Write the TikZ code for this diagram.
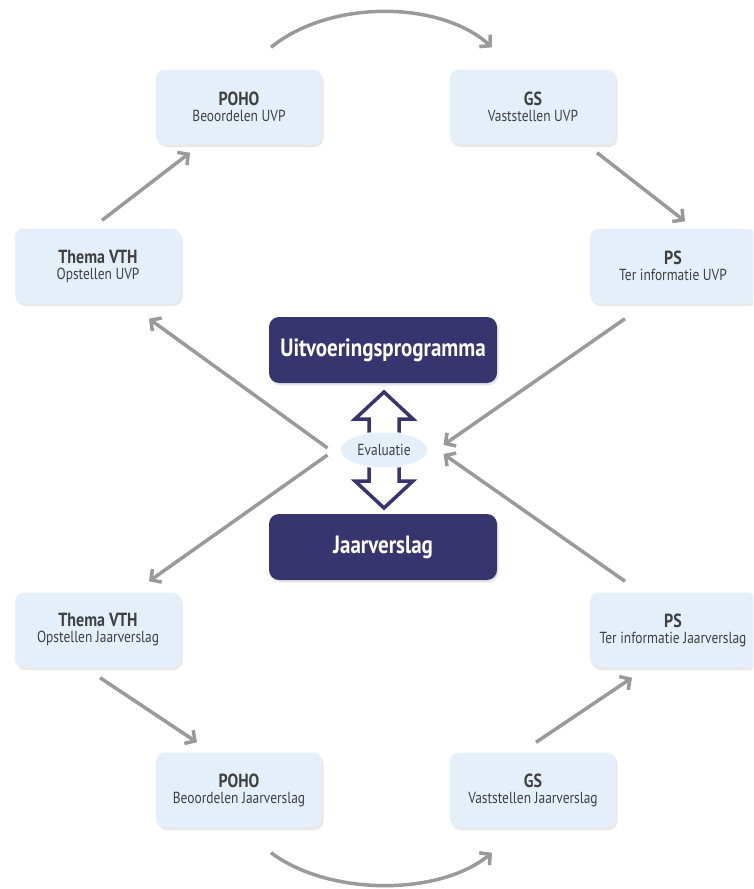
\documentclass[tikz,border=0pt]{standalone}
\usepackage{fontspec}
\setmainfont{PT Sans}[FakeStretch=0.84]
\usetikzlibrary{arrows.meta,shapes.geometric,shadows}
\definecolor{boxblue}{HTML}{E4EFFA}
\definecolor{navy}{HTML}{37356F}
\definecolor{flowgray}{HTML}{9A9A9A}
\definecolor{txtgray}{HTML}{404040}
\tikzset{
  stap/.style={rectangle,rounded corners=9pt,fill=boxblue,minimum width=166pt,minimum height=75pt,
    align=center,text=txtgray,font=\fontsize{16}{16}\selectfont,
    drop shadow={opacity=0.18,shadow xshift=1.5pt,shadow yshift=-2.5pt}},
  kern/.style={rectangle,rounded corners=10pt,fill=navy,minimum width=228pt,minimum height=66pt,
    text=white,font=\fontsize{25}{28}\selectfont\bfseries,
    drop shadow={opacity=0.18,shadow xshift=1.5pt,shadow yshift=-2.5pt}},
  flow/.style={draw=flowgray,line width=3.5pt,-{Straight Barb[length=7.5pt,width=16pt]}},
}
\newcommand{\stapkop}[2]{{\fontsize{19}{17}\selectfont\bfseries #1}\\#2}
\begin{document}
\begin{tikzpicture}[x=1pt,y=-1pt]
\clip (0,0) rectangle (753,889);
\fill[white] (0,0) rectangle (753,889);
% bovenste ring
\node[stap] (poho1) at (239,107) {\stapkop{POHO}{Beoordelen UVP}};
\node[stap] (gs1) at (533,107) {\stapkop{GS}{Vaststellen UVP}};
\node[stap] (thema1) at (98,266) {\stapkop{Thema VTH}{Opstellen UVP}};
\node[stap] (ps1) at (673,266) {\stapkop{PS}{Ter informatie UVP}};
% midden
\node[kern] (uvp) at (383,350) {Uitvoeringsprogramma};
\node[kern] (jv) at (383,547) {Jaarverslag};
\draw[navy,line width=3.5pt,fill=white,line join=miter]
  (384,392) -- (413,419) -- (399,419) -- (399,440) -- (369,440) -- (369,419) -- (355,419) -- cycle;
\draw[navy,line width=3.5pt,fill=white,line join=miter]
  (384,508) -- (413,481) -- (399,481) -- (399,460) -- (369,460) -- (369,481) -- (355,481) -- cycle;
\node[ellipse,fill=boxblue,draw=white,line width=1pt,minimum width=88pt,minimum height=36pt,inner sep=0pt,
  text=txtgray,font=\fontsize{16}{16}\selectfont] (eval) at (384,450) {Evaluatie};
% onderste ring
\node[stap] (thema2) at (98,630) {\stapkop{Thema VTH}{Opstellen Jaarverslag}};
\node[stap] (ps2) at (673,630) {\stapkop{PS}{Ter informatie Jaarverslag}};
\node[stap] (poho2) at (239,790) {\stapkop{POHO}{Beoordelen Jaarverslag}};
\node[stap] (gs2) at (533,790) {\stapkop{GS}{Vaststellen Jaarverslag}};
% pijlen
\draw[flow] ([shift={(4,-8)}]thema1.north) -- ([shift={(-49,8)}]poho1.south);
\draw[flow] ([shift={(32,-22)}]poho1.north) .. controls +(59,-48) and +(-52,-47) .. ([shift={(-41,-22)}]gs1.north);
\draw[flow] ([shift={(64,8)}]gs1.south) -- ([shift={(12,-7)}]ps1.north);
\draw[flow] ([shift={(-48,15)}]ps1.south) -- ([shift={(15,-5)}]eval.east);
\draw[flow] ([shift={(-12,-2)}]eval.west) -- ([shift={(51,15)}]thema1.south);
\draw[flow] ([shift={(-12,5)}]eval.west) -- ([shift={(51,-11)}]thema2.north);
\draw[flow] ([shift={(2,10)}]thema2.south) -- ([shift={(-42,-10)}]poho2.north);
\draw[flow] ([shift={(32,25)}]poho2.south) .. controls +(59,44) and +(-52,43) .. ([shift={(-41,25)}]gs2.south);
\draw[flow] ([shift={(3,-10)}]gs2.north) -- ([shift={(-41,10)}]ps2.south);
\draw[flow] ([shift={(-48,-11)}]ps2.north) -- ([shift={(15,4)}]eval.east);
\end{tikzpicture}
\end{document}
